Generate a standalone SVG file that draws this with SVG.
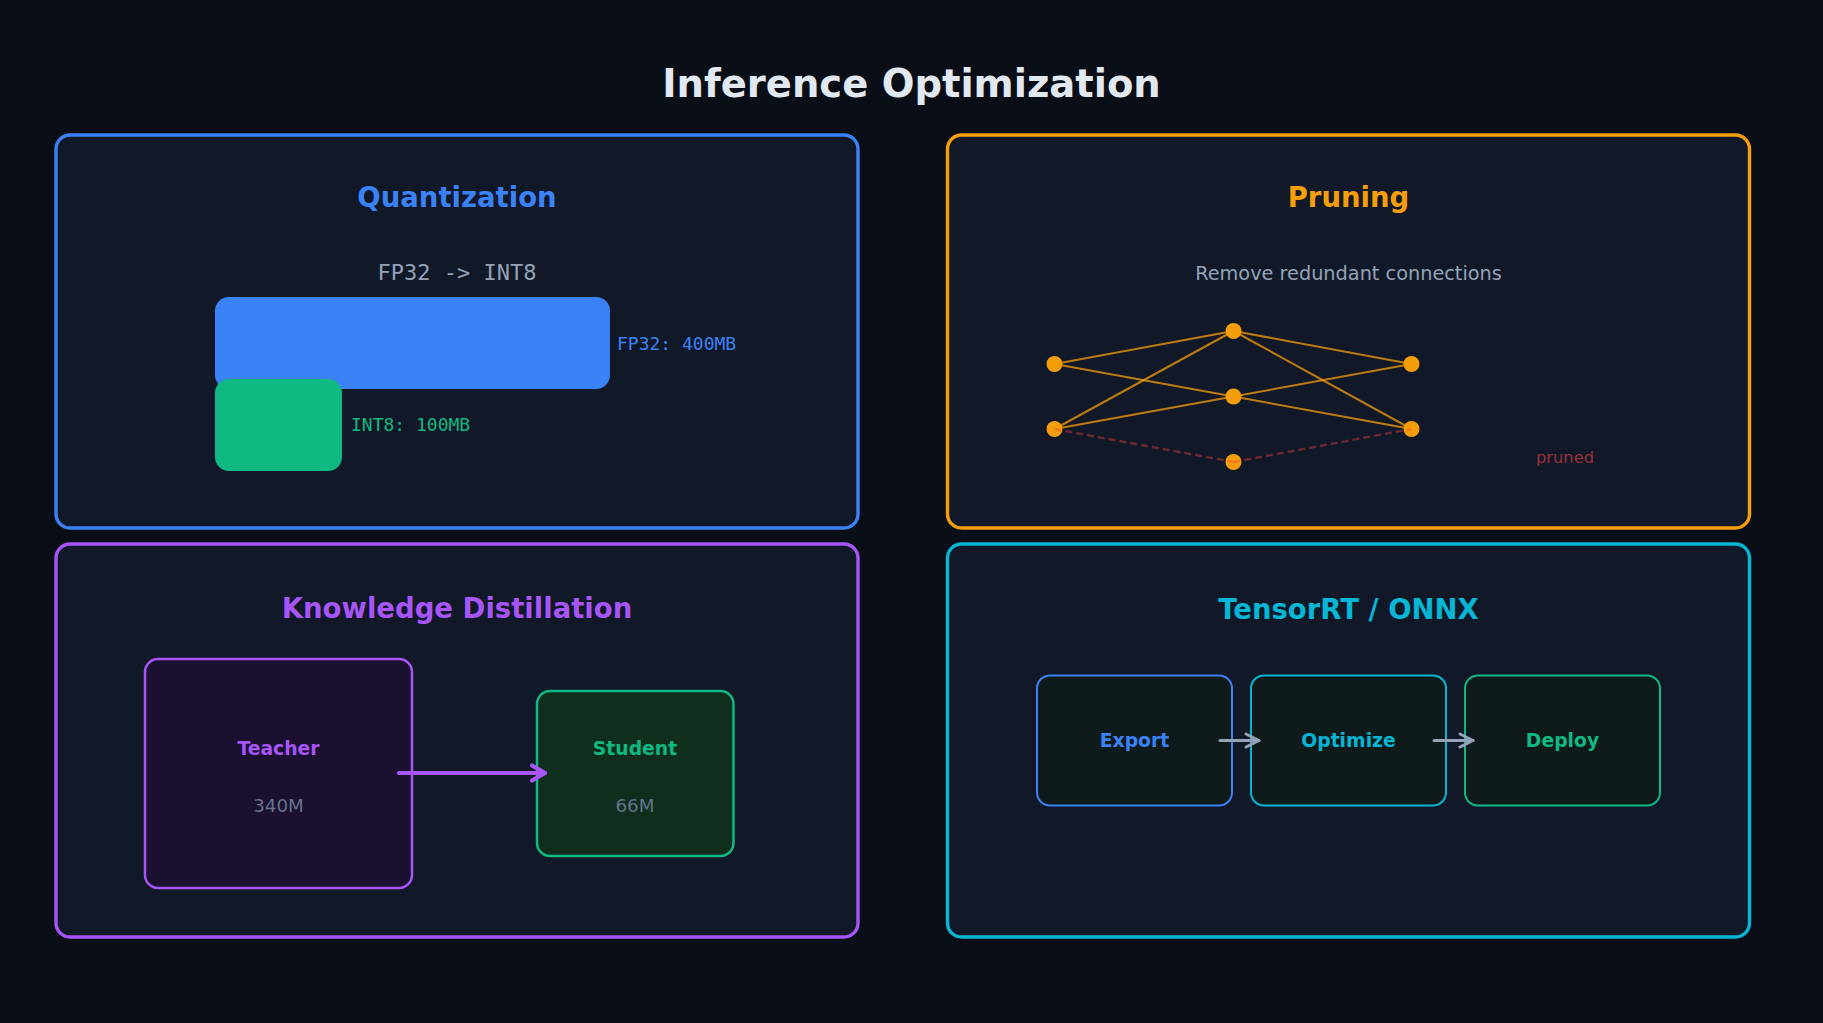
<svg xmlns="http://www.w3.org/2000/svg" width="1823" height="1023" viewBox="0 0 1823 1023">
  <style>
    text { font-family: "DejaVu Sans", "Liberation Sans", sans-serif; text-anchor: middle; }
    text.left { text-anchor: start; }
    .title { font-size: 38.5px; font-weight: bold; fill: #e2e8f0; }
    .sec { font-size: 27.5px; font-weight: bold; }
    .sub { font-size: 19.3px; fill: #94a3b8; }
    .mono { font-family: "DejaVu Sans Mono", "Liberation Mono", monospace; }
    .lbl { font-size: 18.8px; font-weight: bold; }
    .val { font-size: 18.3px; fill: #64748b; }
    .panel { fill: #111827; stroke-width: 3.4; }
    .box { fill: #0f1a1b; stroke-width: 2; }
    .edge { stroke: #f59e0b; stroke-opacity: 0.75; stroke-width: 2; fill: none; }
    .cut { stroke: #ef4444; stroke-opacity: 0.4; stroke-width: 2.4; stroke-dasharray: 7 4; fill: none; }
    .neuron { fill: #f59e0b; }
  </style>
  <defs>
    <marker id="chevPurple" markerUnits="userSpaceOnUse" viewBox="-20 -12 24 24" markerWidth="24" markerHeight="24" refX="0" refY="0" orient="auto" overflow="visible">
      <path d="M-13,-7.5 L0,0 L-13,7.5" fill="none" stroke="#a855f7" stroke-width="4.2" stroke-linecap="round" stroke-linejoin="round"/>
    </marker>
    <marker id="chevGray" markerUnits="userSpaceOnUse" viewBox="-20 -12 24 24" markerWidth="24" markerHeight="24" refX="0" refY="0" orient="auto" overflow="visible">
      <path d="M-13,-6.5 L0,0 L-13,6.5" fill="none" stroke="#94a3b8" stroke-width="3" stroke-linecap="round" stroke-linejoin="round"/>
    </marker>
  </defs>

  <rect x="0" y="0" width="1823" height="1023" fill="#0a0e17"/>
  <text class="title" x="911.5" y="97">Inference Optimization</text>

  <!-- Quantization -->
  <g id="quantization">
    <rect class="panel" x="56" y="135" width="802" height="393" rx="14" stroke="#3b82f6"/>
    <text class="sec" x="457" y="207" fill="#3b82f6">Quantization</text>
    <text class="mono" x="457" y="280" font-size="22" fill="#94a3b8">FP32 -&gt; INT8</text>
    <g id="fp32-bar">
      <rect x="215" y="297" width="395" height="92" rx="14" fill="#3b82f6"/>
      <text class="mono left" x="617" y="350" font-size="18" fill="#3b82f6">FP32: 400MB</text>
    </g>
    <g id="int8-bar">
      <rect x="215" y="379" width="127" height="92" rx="14" fill="#10b981"/>
      <text class="mono left" x="351" y="431" font-size="18" fill="#10b981">INT8: 100MB</text>
    </g>
  </g>

  <!-- Pruning -->
  <g id="pruning">
    <rect class="panel" x="947.5" y="135" width="802" height="393" rx="14" stroke="#f59e0b"/>
    <text class="sec" x="1348.5" y="207" fill="#f59e0b">Pruning</text>
    <text class="sub" x="1348.5" y="280">Remove redundant connections</text>
    <g id="pruning-edges">
      <line class="edge" x1="1054.5" y1="364" x2="1233.5" y2="331"/>
      <line class="edge" x1="1054.5" y1="364" x2="1233.5" y2="396.5"/>
      <line class="edge" x1="1054.5" y1="429" x2="1233.5" y2="331"/>
      <line class="edge" x1="1054.5" y1="429" x2="1233.5" y2="396.5"/>
      <line class="edge" x1="1233.5" y1="331" x2="1411.5" y2="364"/>
      <line class="edge" x1="1233.5" y1="331" x2="1411.5" y2="429"/>
      <line class="edge" x1="1233.5" y1="396.5" x2="1411.5" y2="364"/>
      <line class="edge" x1="1233.5" y1="396.5" x2="1411.5" y2="429"/>
    </g>
    <g id="neurons">
      <circle class="neuron" id="n-l1" cx="1054.5" cy="364" r="8"/>
      <circle class="neuron" id="n-l2" cx="1054.5" cy="429" r="8"/>
      <circle class="neuron" id="n-m1" cx="1233.5" cy="331" r="8"/>
      <circle class="neuron" id="n-m2" cx="1233.5" cy="396.5" r="8"/>
      <circle class="neuron" id="n-m3" cx="1233.5" cy="462" r="8"/>
      <circle class="neuron" id="n-r1" cx="1411.5" cy="364" r="8"/>
      <circle class="neuron" id="n-r2" cx="1411.5" cy="429" r="8"/>
    </g>
    <g id="pruned-edges">
      <line class="cut" x1="1054.5" y1="429" x2="1233.5" y2="462"/>
      <line class="cut" x1="1233.5" y1="462" x2="1411.5" y2="429"/>
    </g>
    <text x="1565" y="463" font-size="16.3" fill="#ef4444" fill-opacity="0.6">pruned</text>
  </g>

  <!-- Knowledge Distillation -->
  <g id="distillation">
    <rect class="panel" x="56" y="544" width="802" height="393" rx="14" stroke="#a855f7"/>
    <text class="sec" x="457" y="618" fill="#a855f7">Knowledge Distillation</text>
    <g id="teacher">
      <rect x="145" y="659" width="267" height="229" rx="13" fill="#1b1030" stroke="#a855f7" stroke-width="2.5"/>
      <text class="lbl" x="278.5" y="755" fill="#a855f7">Teacher</text>
      <text class="val" x="278.5" y="812">340M</text>
    </g>
    <g id="student">
      <rect x="537" y="691" width="196.5" height="165" rx="13" fill="#0f2e1e" stroke="#10b981" stroke-width="2.5"/>
      <text class="lbl" x="635" y="755" fill="#10b981">Student</text>
      <text class="val" x="635" y="812">66M</text>
    </g>
  </g>

  <!-- TensorRT / ONNX -->
  <g id="tensorrt">
    <rect class="panel" x="947.5" y="544" width="802" height="393" rx="14" stroke="#06b6d4"/>
    <text class="sec" x="1348.5" y="619" fill="#06b6d4">TensorRT / ONNX</text>
    <g id="export">
      <rect class="box" x="1037" y="675.5" width="195" height="130" rx="13" stroke="#3b82f6"/>
      <text class="lbl" x="1134.5" y="747" fill="#3b82f6">Export</text>
    </g>
    <g id="optimize">
      <rect class="box" x="1251" y="675.5" width="195" height="130" rx="13" stroke="#06b6d4"/>
      <text class="lbl" x="1348.5" y="747" fill="#06b6d4">Optimize</text>
    </g>
    <g id="deploy">
      <rect class="box" x="1465" y="675.5" width="195" height="130" rx="13" stroke="#10b981"/>
      <text class="lbl" x="1562.5" y="747" fill="#10b981">Deploy</text>
    </g>
  </g>

  <!-- connectors -->
  <g id="connectors" fill="none" stroke-linecap="round">
    <line x1="399" y1="773" x2="545" y2="773" stroke="#a855f7" stroke-width="4.2" marker-end="url(#chevPurple)"/>
    <line x1="1220" y1="740.5" x2="1259" y2="740.5" stroke="#94a3b8" stroke-width="3" marker-end="url(#chevGray)"/>
    <line x1="1434" y1="740.5" x2="1473" y2="740.5" stroke="#94a3b8" stroke-width="3" marker-end="url(#chevGray)"/>
  </g>
</svg>
